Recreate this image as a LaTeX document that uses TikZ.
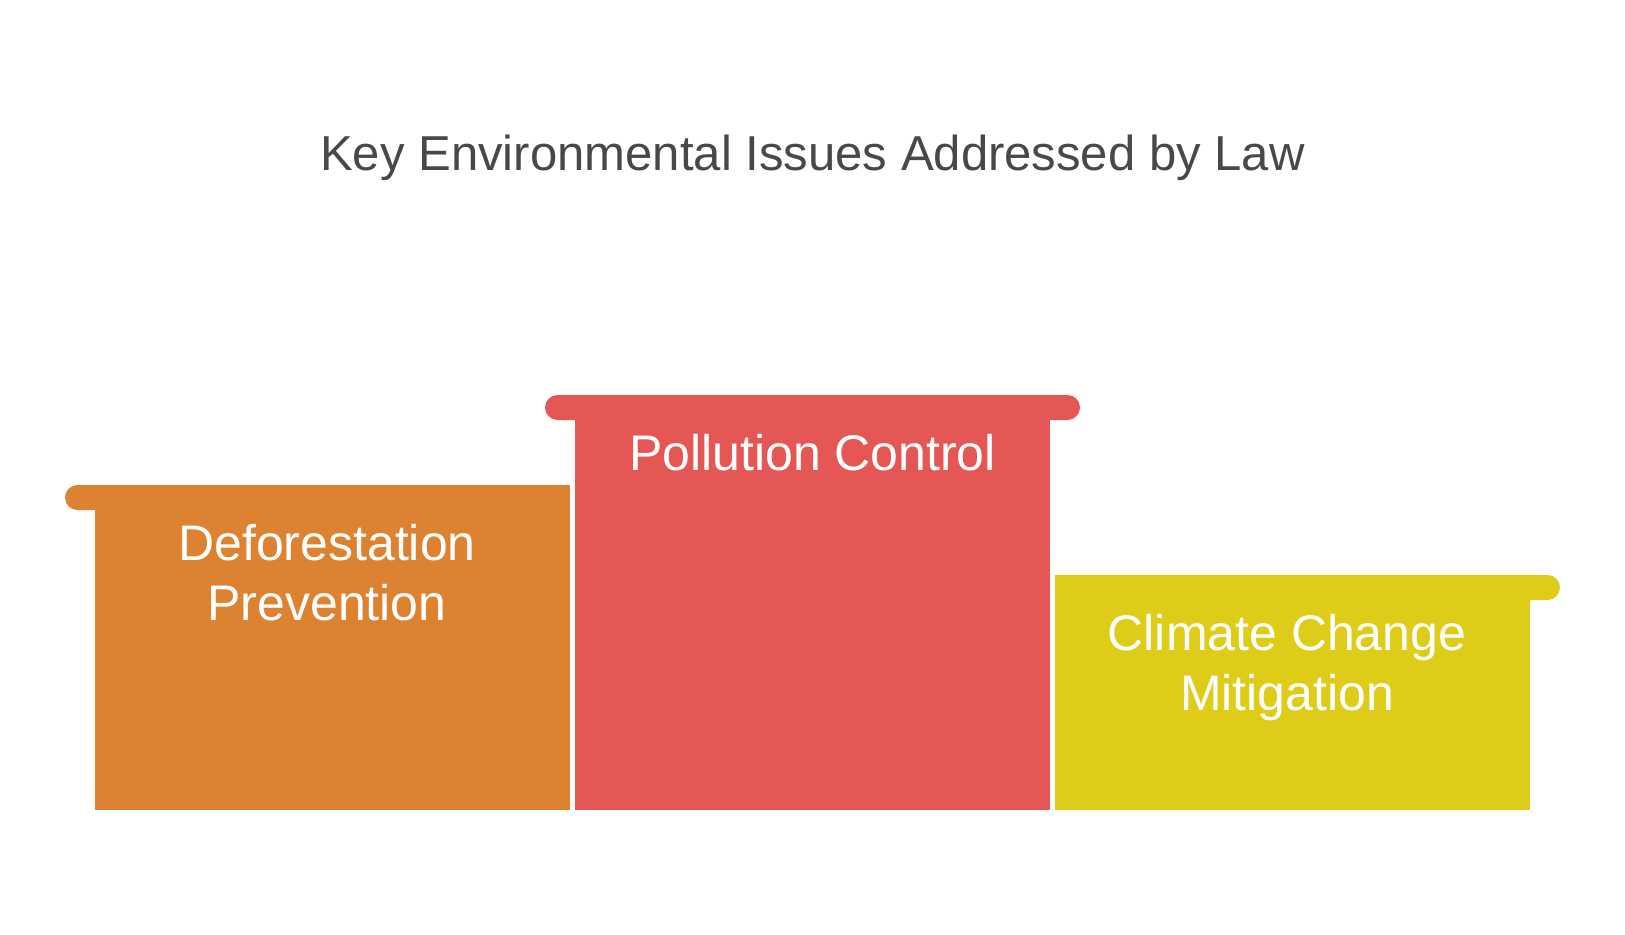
\documentclass[tikz,border=0pt]{standalone}
\usepackage{fontspec}
\setmainfont{Liberation Sans}
\usepackage{tikz}

\definecolor{deforange}{RGB}{221,130,48}
\definecolor{pollred}{RGB}{229,87,84}
\definecolor{climyellow}{RGB}{223,204,24}
\definecolor{titlegray}{RGB}{72,72,72}

\begin{document}
\begin{tikzpicture}[line cap=round,line join=round,x=0.75pt,y=-0.75pt,
  podtitle/.style={anchor=base,text=white,align=center,font=\fontsize{37.5}{45}\selectfont,inner sep=0pt},
  headtitle/.style={anchor=base,text=titlegray,font=\fontsize{36.8}{44}\selectfont,inner sep=0pt},
  podtab/.style={rounded corners=9.375pt}]
\useasboundingbox (0,0) rectangle (1625,935);
% orange
\fill[deforange,podtab] (65,485) rectangle (120,510);
\fill[deforange] (95,485) rectangle (570,810);
% red
\fill[pollred,podtab] (545,395) rectangle (1080,420);
\fill[pollred] (574.5,395) rectangle (1050,810);
% yellow
\fill[climyellow,podtab] (1055,575) rectangle (1560,600);
\fill[climyellow] (1055,575) rectangle (1530,810);
\node[headtitle] (title) at (812.5,170) {Key Environmental Issues Addressed by Law};
\node[podtitle] (deforest) at (327,620) {Deforestation\\Prevention};
\node[podtitle] (pollution) at (812.5,470) {Pollution Control};
\node[podtitle] (climate) at (1287,710) {Climate Change\\Mitigation};
\end{tikzpicture}
\end{document}
